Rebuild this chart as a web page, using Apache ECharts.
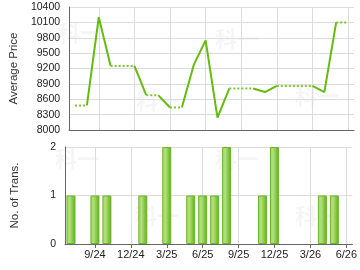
<!DOCTYPE html>
<html>
<head>
<meta charset="utf-8">
<script src="https://cdn.jsdelivr.net/npm/echarts@6/dist/echarts.min.js"></script>
<style>
  html, body { margin: 0; padding: 0; background: #fff; }
  #chart { width: 360px; height: 270px; }
</style>
</head>
<body>
<div id="chart"></div>
<script>
// months shown on the x axis, Jul 2024 .. Jun 2026
const months = ['7/24', '8/24', '9/24', '10/24', '11/24', '12/24', '1/25', '2/25', '3/25', '4/25',
  '5/25', '6/25', '7/25', '8/25', '9/25', '10/25', '11/25', '12/25', '1/26', '2/26', '3/26',
  '4/26', '5/26', '6/26'];

// average price per month (carried forward when there is no transaction)
const avgPrice = [8480, 8480, 10200, 9250, 9250, 9250, 8680, 8680, 8440, 8440,
  9270, 9750, 8240, 8810, 8810, 8810, 8740, 8860, 8860, 8860, 8860,
  8740, 10100, 10100];

// number of transactions per month
const transCount = [1, 0, 1, 1, 0, 0, 1, 0, 2, 0,
  1, 1, 1, 2, 0, 0, 1, 2, 0, 0, 0,
  1, 1, 0];

const priceTicks = [8000, 10400, 300];
const countTicks = [0, 2, 1];

const LINE_GREEN = '#66bb10';
const AXIS_GREY = '#666';
const GRID_GREY = '#dcdcdc';
const FONT = 'Liberation Sans, Arial, sans-serif';

// split the price line into runs: a segment is solid when the month it
// ends in has transactions, otherwise dotted
const buildPriceSeries = () => {
  const series = [];
  let run = null;
  for (let i = 1; i < months.length; i++) {
    const solid = transCount[i] > 0;
    if (!run || run.solid !== solid) {
      run = { solid, data: [[i - 1, avgPrice[i - 1]]] };
      series.push(run);
    }
    run.data.push([i, avgPrice[i]]);
  }
  return series.map(r => ({
    type: 'line',
    xAxisIndex: 0,
    yAxisIndex: 0,
    data: r.data,
    symbol: 'none',
    silent: true,
    animation: false,
    lineStyle: {
      color: r.solid ? LINE_GREEN : '#7cc832',
      width: 2,
      type: r.solid ? 'solid' : [2, 2]
    }
  }));
};

// only every 3rd month (9/24, 12/24 ...) gets a grid line / label
const everyQuarter = (i) => (i - 2) % 3 === 0;

const xAxisBase = (gridIndex, showLabel) => ({
  type: 'category',
  gridIndex,
  data: months,
  boundaryGap: true,
  axisLine: { show: true, lineStyle: { color: AXIS_GREY, width: 1 } },
  axisTick: { show: showLabel, interval: everyQuarter, alignWithLabel: true, length: 4, lineStyle: { color: AXIS_GREY } },
  axisLabel: { show: showLabel, interval: everyQuarter, color: '#222', fontSize: 11, fontFamily: FONT, margin: 5 },
  splitLine: { show: true, interval: everyQuarter, alignWithLabel: true, lineStyle: { color: GRID_GREY, width: 1 } }
});

const yAxisBase = (gridIndex, ticks, name) => ({
  type: 'value',
  gridIndex,
  min: ticks[0],
  max: ticks[1],
  interval: ticks[2],
  name,
  nameLocation: 'middle',
  nameGap: 44,
  nameTextStyle: { color: '#333', fontSize: 11.5, fontFamily: FONT },
  axisLine: { show: true, lineStyle: { color: AXIS_GREY, width: 1 } },
  axisTick: { show: false },
  axisLabel: { color: '#222', fontSize: 10.5, fontFamily: FONT, margin: 9, formatter: v => String(v) },
  splitLine: { show: true, lineStyle: { color: GRID_GREY, width: 1 } }
});

const chart = echarts.init(document.getElementById('chart'), null, { renderer: 'canvas' });

const watermark = (left, top) => ({
  type: 'text', left, top, silent: true,
  style: { text: '科一', fill: 'rgba(0,0,0,0.04)', font: 'bold 22px "Noto Sans CJK SC"' }
});

const option = {
  backgroundColor: '#fff',
  animation: false,
  grid: [
    { left: 65, right: 6, top: 7, height: 123 },
    { left: 65, right: 6, top: 147, height: 97 }
  ],
  xAxis: [xAxisBase(0, false), xAxisBase(1, true)],
  yAxis: [
    yAxisBase(0, priceTicks, 'Average Price'),
    yAxisBase(1, countTicks, 'No. of Trans.')
  ],
  graphic: [
    watermark(58, 22), watermark(136, 90), watermark(215, 28), watermark(295, 85),
    watermark(55, 148), watermark(135, 205), watermark(215, 148), watermark(295, 205)
  ],
  series: [
    {
      type: 'bar',
      xAxisIndex: 1,
      yAxisIndex: 1,
      // months without transactions draw no bar at all
      data: transCount.map(c => (c > 0 ? c : null)),
      barWidth: 9,
      silent: true,
      itemStyle: {
        borderColor: '#6ab52a',
        borderWidth: 1,
        color: new echarts.graphic.LinearGradient(0, 0, 1, 0, [
          { offset: 0, color: '#9fd663' },
          { offset: 0.35, color: '#b2e07c' },
          { offset: 0.75, color: '#7cc335' },
          { offset: 1, color: '#5ea71a' }
        ])
      }
    },
    ...buildPriceSeries()
  ]
};

chart.setOption(option);
</script>
</body>
</html>
